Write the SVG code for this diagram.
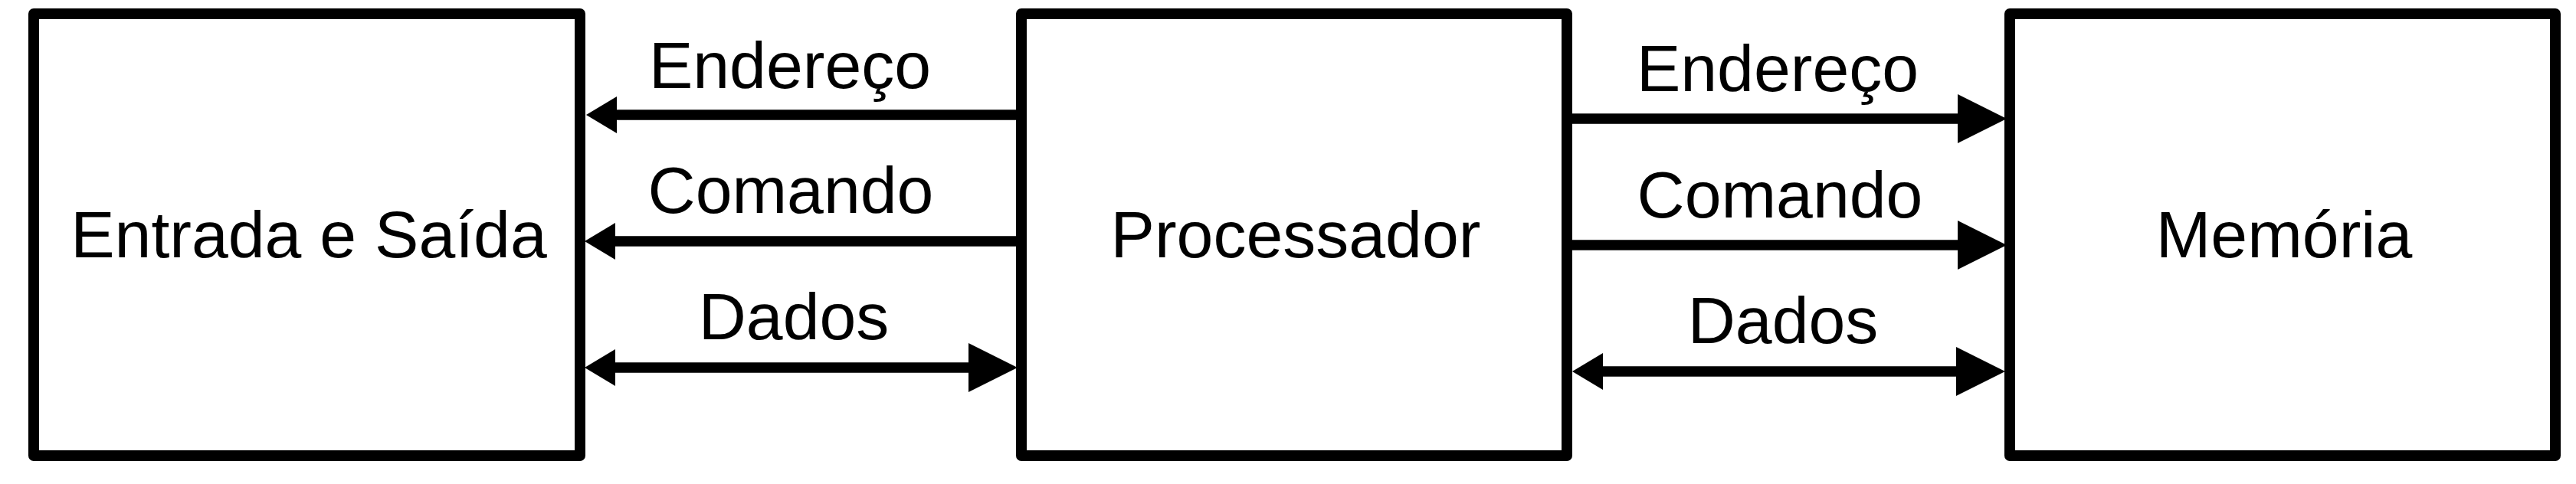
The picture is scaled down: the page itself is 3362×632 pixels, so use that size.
<svg xmlns="http://www.w3.org/2000/svg" width="3362" height="632" viewBox="0 0 3362 632">
<style>
.box{fill:#fff;stroke:#000;stroke-width:14;stroke-linejoin:round}
.lbl{font-family:"Liberation Sans",Arial,sans-serif;font-size:86px;fill:#000;text-anchor:middle}
.ln{stroke:#000;stroke-width:13.5;fill:none}
</style>
<defs>
<marker id="sm" markerUnits="userSpaceOnUse" markerWidth="42" markerHeight="50" refX="0" refY="24" orient="auto-start-reverse" viewBox="0 0 42 48" overflow="visible">
<path d="M0,0 L40,24 L0,48 Z" fill="#000"/>
</marker>
<marker id="bg" markerUnits="userSpaceOnUse" markerWidth="64" markerHeight="64" refX="0" refY="31" orient="auto-start-reverse" viewBox="0 0 62 62" overflow="visible">
<path d="M0,0 L62,31 L0,62 Z" fill="#000"/>
</marker>
</defs>
<rect width="3362" height="632" fill="#fff"/>
<g id="io">
<rect class="box" x="44" y="18" width="713" height="577"/>
<text class="lbl" x="403" y="336">Entrada e Saída</text>
</g>
<g id="cpu">
<rect class="box" x="1333" y="18" width="712" height="577"/>
<text class="lbl" x="1691" y="336">Processador</text>
</g>
<g id="mem">
<rect class="box" x="2623" y="18" width="712" height="577"/>
<text class="lbl" x="2981" y="336">Memória</text>
</g>
<g id="connectors">
<path class="ln" d="M1330,150 L805,150" marker-end="url(#sm)"/>
<path class="ln" d="M1330,315 L803,315" marker-end="url(#sm)"/>
<path class="ln" d="M803,480 L1264,480" marker-start="url(#sm)" marker-end="url(#bg)"/>
<path class="ln" d="M2048,155 L2555,155" marker-end="url(#bg)"/>
<path class="ln" d="M2048,320 L2555,320" marker-end="url(#bg)"/>
<path class="ln" d="M2092,485 L2553,485" marker-start="url(#sm)" marker-end="url(#bg)"/>
<text class="lbl" x="1031" y="115">Endereço</text>
<text class="lbl" x="1032" y="278">Comando</text>
<text class="lbl" x="1036" y="443">Dados</text>
<text class="lbl" x="2320" y="119">Endereço</text>
<text class="lbl" x="2323" y="284">Comando</text>
<text class="lbl" x="2327" y="448">Dados</text>
</g>
</svg>
